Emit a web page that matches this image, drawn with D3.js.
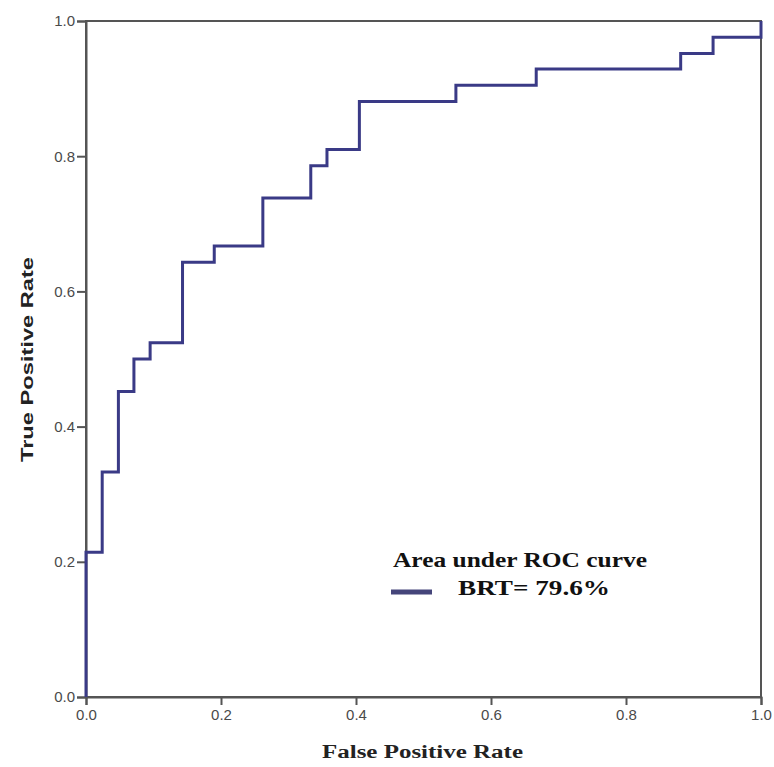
<!DOCTYPE html>
<html>
<head>
<meta charset="utf-8">
<script src="https://cdn.jsdelivr.net/npm/d3@7"></script>
<style>
  body { margin: 0; background: #fff; }
</style>
</head>
<body>
<svg id="visualization"></svg>
<script>
// ROC curve points (step function)
const fpr = [0, 0, 0.024, 0.024, 0.048, 0.048, 0.071, 0.071, 0.095, 0.095, 0.143, 0.143, 0.19, 0.19,
  0.262, 0.262, 0.333, 0.333, 0.357, 0.357, 0.405, 0.405, 0.548, 0.548, 0.667, 0.667,
  0.881, 0.881, 0.929, 0.929, 1.0, 1.0];
const tpr = [0, 0.214, 0.214, 0.333, 0.333, 0.452, 0.452, 0.5, 0.5, 0.524, 0.524, 0.643, 0.643, 0.667,
  0.667, 0.738, 0.738, 0.786, 0.786, 0.81, 0.81, 0.881, 0.881, 0.905, 0.905, 0.929,
  0.929, 0.952, 0.952, 0.976, 0.976, 1.0];
const ticks = [0, 0.2, 0.4, 0.6, 0.8, 1.0];
const legendTitle = 'Area under ROC curve';
const legendLabel = 'BRT= 79.6%';

const width = 774;
const height = 767;
const margin = { top: 21, right: 13, bottom: 70, left: 86 };

const svg = d3.select('#visualization')
  .attr('width', width)
  .attr('height', height);

const x = d3.scaleLinear().domain([0, 1]).range([margin.left, width - margin.right]);
const y = d3.scaleLinear().domain([0, 1]).range([height - margin.bottom, margin.top]);

const axisColor = '#555';
const lineColor = '#3a3a86';

// frame (top and right)
svg.append('rect')
  .attr('x', x(0)).attr('y', y(1))
  .attr('width', x(1) - x(0)).attr('height', y(0) - y(1))
  .attr('fill', 'none').attr('stroke', axisColor).attr('stroke-width', 2);

// axes
const fmt = d3.format('.1f');
const gx = svg.append('g')
  .attr('transform', `translate(0, ${y(0)})`)
  .call(d3.axisBottom(x).tickValues(ticks).tickFormat(fmt).tickSize(8).tickPadding(4));
const gy = svg.append('g')
  .attr('transform', `translate(${x(0)}, 0)`)
  .call(d3.axisLeft(y).tickValues(ticks).tickFormat(fmt).tickSize(9).tickPadding(2));

[gx, gy].forEach(g => {
  g.select('.domain').attr('stroke', axisColor).attr('stroke-width', 2);
  g.selectAll('.tick line').attr('stroke', axisColor).attr('stroke-width', 2);
  g.selectAll('.tick text')
    .attr('fill', '#4a4a4a')
    .style('font-family', 'Liberation Sans, Arial, sans-serif')
    .style('font-size', '15px');
});

// axis titles
svg.append('text')
  .attr('x', 322).attr('y', 758)
  .attr('textLength', 201)
  .attr('lengthAdjust', 'spacingAndGlyphs')
  .style('font-family', 'Liberation Serif, Times New Roman, serif')
  .style('font-weight', 'bold')
  .style('font-size', '18px')
  .attr('fill', '#222')
  .text('False Positive Rate');

svg.append('text')
  .attr('transform', `translate(33, 462) rotate(-90)`)
  .attr('textLength', 205)
  .attr('lengthAdjust', 'spacingAndGlyphs')
  .style('font-family', 'Liberation Sans, Arial, sans-serif')
  .style('font-weight', 'bold')
  .style('font-size', '17px')
  .attr('fill', '#222')
  .text('True Positive Rate');

// ROC line
const pts = fpr.map((d, i) => [d, tpr[i]]);
svg.append('path')
  .datum(pts)
  .attr('fill', 'none')
  .attr('stroke', lineColor)
  .attr('stroke-width', 3)
  .attr('stroke-linejoin', 'miter')
  .attr('d', d3.line().x(d => x(d[0])).y(d => y(d[1])));

// legend
svg.append('text')
  .attr('x', 393).attr('y', 567)
  .attr('textLength', 254)
  .attr('lengthAdjust', 'spacingAndGlyphs')
  .style('font-family', 'Liberation Serif, Times New Roman, serif')
  .style('font-weight', 'bold')
  .style('font-size', '21px')
  .attr('fill', '#111')
  .text(legendTitle);

svg.append('line')
  .attr('x1', 391).attr('x2', 432)
  .attr('y1', 592).attr('y2', 592)
  .attr('stroke', '#45457a')
  .attr('stroke-width', 5);

svg.append('text')
  .attr('x', 458).attr('y', 595)
  .attr('textLength', 152)
  .attr('lengthAdjust', 'spacingAndGlyphs')
  .style('font-family', 'Liberation Serif, Times New Roman, serif')
  .style('font-weight', 'bold')
  .style('font-size', '21px')
  .attr('fill', '#111')
  .text(legendLabel);
</script>
</body>
</html>
